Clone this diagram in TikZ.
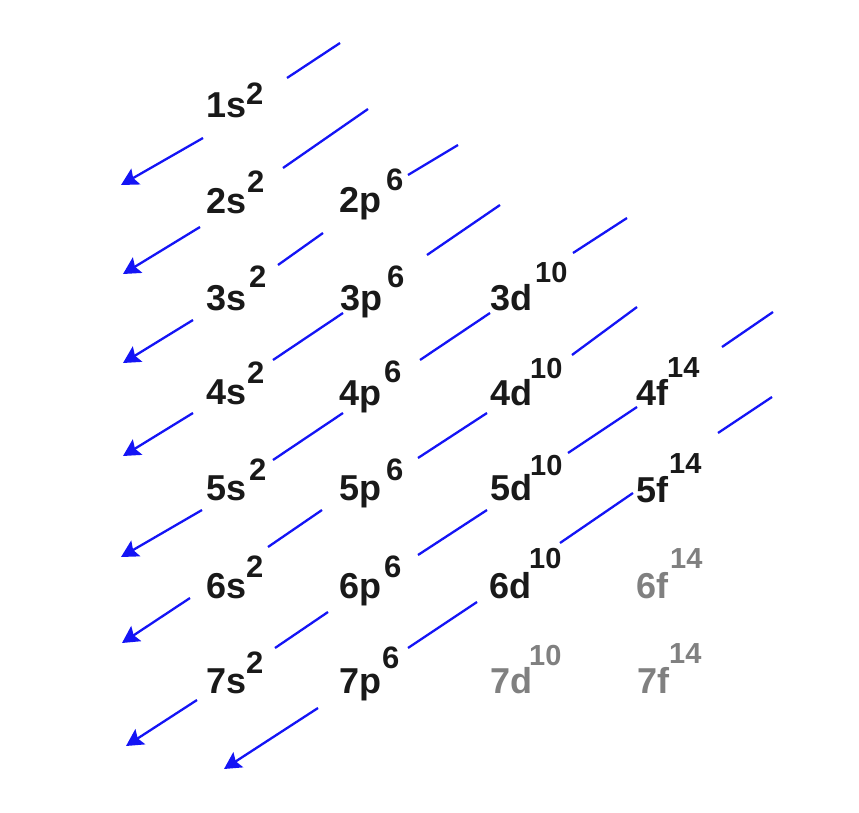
\documentclass[tikz,border=0pt]{standalone}
\usepackage{fontspec}
\setmainfont{Liberation Sans}
\usetikzlibrary{arrows.meta}
\definecolor{txtblack}{RGB}{25,25,25}
\definecolor{txtgray}{RGB}{128,128,128}
\definecolor{lineblue}{RGB}{20,20,245}
\begin{document}
\begin{tikzpicture}[x=1pt,y=-1pt,
  orb/.style={anchor=base west, inner sep=0pt, text=txtblack, font=\fontsize{36}{40}\selectfont\bfseries},
  supa/.style={anchor=base west, inner sep=0pt, text=txtblack, font=\fontsize{31}{34}\selectfont\bfseries},
  supb/.style={anchor=base west, inner sep=0pt, text=txtblack, font=\fontsize{29}{32}\selectfont\bfseries},
  ghost/.style={text=txtgray},
  seg/.style={draw=lineblue, line width=2.3pt},
  arr/.style={seg, -{Stealth[length=17pt,width=18pt,inset=3pt]}}]
\useasboundingbox (0,0) rectangle (859,813);
% ---- labels ----
% row 1
\node[orb] (n1s) at (206,118) {1s};
\node[supa] (n1s2) at (246,105) {2};
% row 2
\node[orb] (n2s) at (206,214) {2s};
\node[supa] (n2s2) at (247,193) {2};
\node[orb] (n2p) at (339,212) {2p};
\node[supa] (n2p6) at (386,190) {6};
% row 3
\node[orb] (n3s) at (206,310) {3s};
\node[supa] (n3s2) at (249,287) {2};
\node[orb] (n3p) at (340,310) {3p};
\node[supa] (n3p6) at (387,287) {6};
\node[orb] (n3d) at (490,310) {3d};
\node[supb] (n3d10) at (535,282) {10};
% row 4
\node[orb] (n4s) at (206,404) {4s};
\node[supa] (n4s2) at (247,383) {2};
\node[orb] (n4p) at (339,405) {4p};
\node[supa] (n4p6) at (384,382) {6};
\node[orb] (n4d) at (490,405) {4d};
\node[supb] (n4d10) at (530,378) {10};
\node[orb] (n4f) at (636,405) {4f};
\node[supb] (n4f14) at (667,377) {14};
% row 5
\node[orb] (n5s) at (206,500) {5s};
\node[supa] (n5s2) at (249,480) {2};
\node[orb] (n5p) at (339,500) {5p};
\node[supa] (n5p6) at (386,480) {6};
\node[orb] (n5d) at (490,500) {5d};
\node[supb] (n5d10) at (530,475) {10};
\node[orb] (n5f) at (636,502) {5f};
\node[supb] (n5f14) at (669,473) {14};
% row 6
\node[orb] (n6s) at (206,598) {6s};
\node[supa] (n6s2) at (246,577) {2};
\node[orb] (n6p) at (339,598) {6p};
\node[supa] (n6p6) at (384,577) {6};
\node[orb] (n6d) at (489,598) {6d};
\node[supb] (n6d10) at (529,568) {10};
\node[orb,ghost] (n6f) at (636,598) {6f};
\node[supb,ghost] (n6f14) at (670,568) {14};
% row 7
\node[orb] (n7s) at (206,693) {7s};
\node[supa] (n7s2) at (246,673) {2};
\node[orb] (n7p) at (339,693) {7p};
\node[supa] (n7p6) at (382,668) {6};
\node[orb,ghost] (n7d) at (490,693) {7d};
\node[supb,ghost] (n7d10) at (529,665) {10};
\node[orb,ghost] (n7f) at (637,693) {7f};
\node[supb,ghost] (n7f14) at (669,663) {14};
% ---- diagonal arrows ----
% arrow 1
\coordinate (a1p) at (340,43);  \coordinate (a1q) at (287,78);
\coordinate (a1r) at (203,138); \coordinate (a1t) at (121,185);
\draw[seg] (a1p) -- (a1q);
\draw[arr] (a1r) -- (a1t);
% arrow 2
\coordinate (a2p) at (368,109); \coordinate (a2q) at (283,168);
\coordinate (a2r) at (200,227); \coordinate (a2t) at (123,274);
\draw[seg] (a2p) -- (a2q);
\draw[arr] (a2r) -- (a2t);
% arrow 3
\coordinate (a3p) at (458,145); \coordinate (a3q) at (408,175);
\coordinate (a3r) at (323,233); \coordinate (a3s) at (278,265);
\coordinate (a3u) at (193,320); \coordinate (a3t) at (123,363);
\draw[seg] (a3p) -- (a3q);
\draw[seg] (a3r) -- (a3s);
\draw[arr] (a3u) -- (a3t);
% arrow 4
\coordinate (a4p) at (500,205); \coordinate (a4q) at (427,255);
\coordinate (a4r) at (343,313); \coordinate (a4s) at (273,360);
\coordinate (a4u) at (193,413); \coordinate (a4t) at (123,456);
\draw[seg] (a4p) -- (a4q);
\draw[seg] (a4r) -- (a4s);
\draw[arr] (a4u) -- (a4t);
% arrow 5
\coordinate (a5p) at (627,218); \coordinate (a5q) at (573,253);
\coordinate (a5r) at (490,313); \coordinate (a5s) at (420,360);
\coordinate (a5u) at (343,413); \coordinate (a5v) at (273,460);
\coordinate (a5w) at (202,510); \coordinate (a5t) at (121,557);
\draw[seg] (a5p) -- (a5q);
\draw[seg] (a5r) -- (a5s);
\draw[seg] (a5u) -- (a5v);
\draw[arr] (a5w) -- (a5t);
% arrow 6
\coordinate (a6p) at (637,307); \coordinate (a6q) at (572,355);
\coordinate (a6r) at (487,413); \coordinate (a6s) at (418,458);
\coordinate (a6u) at (322,510); \coordinate (a6v) at (268,547);
\coordinate (a6w) at (190,598); \coordinate (a6t) at (122,643);
\draw[seg] (a6p) -- (a6q);
\draw[seg] (a6r) -- (a6s);
\draw[seg] (a6u) -- (a6v);
\draw[arr] (a6w) -- (a6t);
% arrow 7
\coordinate (a7p) at (773,312); \coordinate (a7q) at (722,347);
\coordinate (a7r) at (637,407); \coordinate (a7s) at (568,453);
\coordinate (a7u) at (487,510); \coordinate (a7v) at (418,555);
\coordinate (a7w) at (328,612); \coordinate (a7x) at (275,648);
\coordinate (a7y) at (197,700); \coordinate (a7t) at (126,746);
\draw[seg] (a7p) -- (a7q);
\draw[seg] (a7r) -- (a7s);
\draw[seg] (a7u) -- (a7v);
\draw[seg] (a7w) -- (a7x);
\draw[arr] (a7y) -- (a7t);
% arrow 8
\coordinate (a8p) at (772,397); \coordinate (a8q) at (718,433);
\coordinate (a8r) at (633,493); \coordinate (a8s) at (560,543);
\coordinate (a8u) at (477,602); \coordinate (a8v) at (408,648);
\coordinate (a8w) at (318,708); \coordinate (a8t) at (224,769);
\draw[seg] (a8p) -- (a8q);
\draw[seg] (a8r) -- (a8s);
\draw[seg] (a8u) -- (a8v);
\draw[arr] (a8w) -- (a8t);
\end{tikzpicture}
\end{document}
